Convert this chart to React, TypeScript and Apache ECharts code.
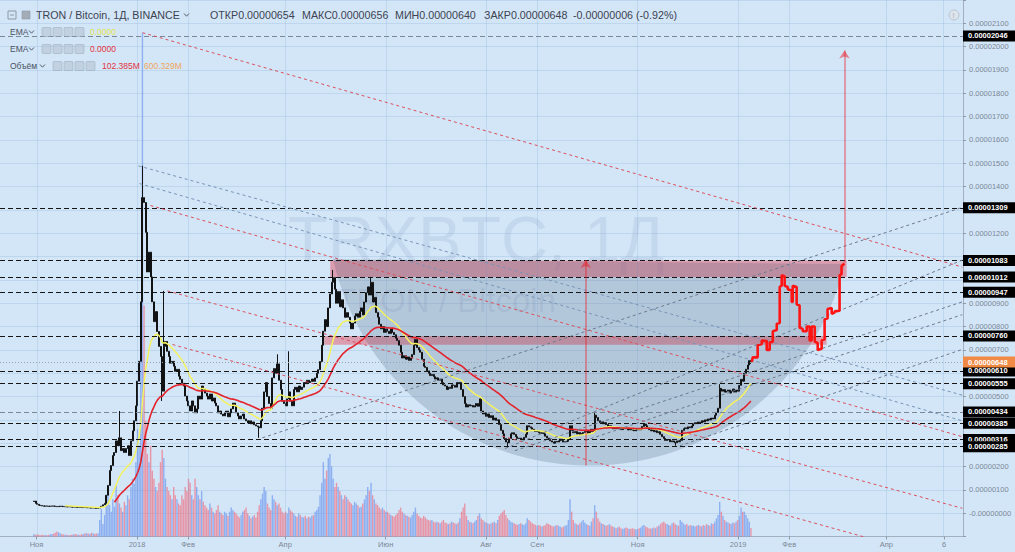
import React, { useEffect, useRef } from "react";
import * as echarts from "echarts";

const DAY = 86400000;
const T2018 = Date.UTC(2018, 0, 1);
const T2019 = Date.UTC(2019, 0, 1);
const SERIES_START = Date.UTC(2017, 9, 30);

// ---- daily closes (satoshi, 1e-8 BTC) ----
const closes2017 = [52, 42,
  38, 34, 33, 31, 30, 31, 30, 29, 30, 31, 30, 29, 28, 29, 30, 29, 28, 28, 27, 28, 27, 26, 27, 26, 25, 26, 25, 24, 25, 24,
  24, 23, 23, 22, 23, 22, 21, 22, 24, 30, 36, 42, 77, 119, 183, 204, 247, 260, 310, 289, 323, 268, 277, 260, 277, 289, 247, 310, 353, 396, 460];
const closes2018a = [
  566, 651, 906, 1353, 1332, 1204, 1034, 1119, 1013, 906, 821, 864, 779, 715, 672, 523, 715, 736, 694, 672, 643, 651, 630, 608, 617, 587, 574, 557, 545, 502, 481,
  460, 438, 481, 460, 430, 447, 502, 489, 545, 532, 515, 502, 489, 511, 481, 494, 472, 460, 430, 438, 425, 417, 430, 438, 413, 430, 447, 472,
  460, 430, 417, 404, 417, 425, 404, 396, 387, 396, 383, 391, 379, 374, 370, 366, 396, 450, 520, 560, 500, 470, 450, 580, 620, 600, 640, 570, 530, 480, 470,
  460, 490, 520, 480, 460, 530, 540, 520, 545, 530, 540, 560, 555, 570, 560, 565, 575, 565, 580, 600, 615, 650, 720, 780, 830, 800, 880, 940, 990, 1010, 960,
  900, 950, 885, 915, 880, 840, 860, 840, 815, 790, 815, 845, 855, 840, 865, 880, 850, 905, 945, 970, 935, 990, 905, 925, 860, 840, 810, 790, 800, 775, 790,
  780, 770, 790, 775, 765, 750, 740, 720, 690, 665, 675, 660, 670, 655, 665, 680, 720, 745, 710, 700, 690, 660, 630, 625, 610, 600, 590, 595, 585, 575];
const closes2018b = [
  580, 570, 575, 560, 550, 545, 530, 540, 535, 550, 548, 540, 560, 555, 560, 530, 500, 470, 455, 465, 460, 462, 455, 460, 470, 458, 490, 438, 425, 430, 415, 425,
  410, 418, 400, 408, 398, 400, 380, 355, 340, 320, 305, 302, 320, 340, 345, 338, 328, 320, 322, 315, 318, 325, 338, 375, 370, 366, 360, 355, 350, 352, 345,
  342, 345, 340, 330, 322, 318, 310, 305, 300, 308, 305, 310, 318, 312, 305, 306, 308, 318, 375, 355, 345, 350, 340, 346, 338, 342, 346, 350, 355, 342, 350,
  360, 350, 420, 410, 396, 388, 392, 383, 388, 380, 372, 375, 366, 362, 366, 362, 366, 362, 358, 362, 366, 362, 357, 360, 357, 356, 353, 357, 362, 357, 362,
  372, 382, 375, 366, 358, 353, 357, 349, 353, 345, 349, 338, 328, 320, 312, 314, 316, 306, 310, 305, 302, 310, 306, 312, 355, 362, 366, 362, 370, 366, 374,
  383, 388, 384, 391, 387, 396, 391, 400, 396, 404, 400, 408, 404, 420, 432, 450, 535, 523, 530, 519, 523, 528, 515, 523, 532, 519, 528, 523, 548, 574, 566];
const closes2019 = [600, 617, 635, 654, 648];

// ---- daily volume (millions) ----
const volumes2017 = [30, 20,
  25, 20, 15, 20, 15, 18, 15, 20, 25, 30, 35, 45, 60, 50, 40, 30, 25, 20, 20, 15, 18, 20, 25, 30, 25, 20, 22, 25, 30, 35,
  40, 35, 30, 45, 40, 30, 35, 40, 200, 330, 150, 260, 420, 560, 380, 300, 450, 360, 620, 500, 400, 350, 300, 420, 380, 500, 450, 600, 700, 640, 900];
const volumes2018a = [
  1300, 1100, 2500, 6100, 2800, 1400, 1000, 900, 1100, 800, 700, 600, 550, 650, 900, 1050, 950, 700, 600, 550, 500, 450, 600, 500, 450, 400, 380, 500, 450, 600, 550,
  700, 650, 500, 450, 700, 600, 500, 450, 550, 420, 380, 350, 320, 400, 350, 300, 280, 320, 380, 300, 280, 260, 300, 280, 250, 300, 350, 320,
  300, 280, 250, 230, 260, 300, 320, 350, 280, 250, 220, 240, 260, 230, 300, 380, 450, 520, 600, 550, 400, 350, 320, 500, 450, 420, 380, 400, 350, 300, 280,
  300, 280, 350, 320, 300, 280, 250, 240, 280, 260, 240, 230, 250, 220, 240, 230, 250, 260, 300, 320, 360, 500, 650, 900, 700, 800, 950, 1000, 850, 700, 600,
  650, 600, 550, 500, 450, 500, 480, 450, 420, 400, 380, 420, 400, 380, 350, 360, 400, 450, 500, 600, 550, 650, 500, 450, 400, 380, 350, 330, 350, 320, 300,
  300, 280, 260, 250, 240, 260, 280, 320, 350, 300, 280, 260, 250, 240, 230, 260, 300, 350, 280, 250, 230, 220, 250, 230, 210, 200, 190, 200, 180, 170];
const volumes2018b = [
  180, 170, 160, 180, 200, 170, 160, 150, 160, 180, 170, 160, 150, 170, 220, 300, 350, 400, 250, 200, 180, 170, 160, 180, 200, 250, 280, 220, 200, 180, 170, 160,
  150, 160, 170, 180, 160, 200, 250, 280, 300, 320, 260, 220, 200, 180, 170, 160, 150, 140, 150, 160, 150, 140, 160, 220, 200, 180, 160, 150, 140, 130, 140,
  130, 120, 130, 140, 160, 150, 140, 130, 120, 130, 140, 130, 120, 110, 120, 130, 140, 200, 450, 300, 200, 160, 150, 140, 160, 180, 200, 170, 150, 140, 130,
  180, 220, 380, 300, 220, 180, 160, 150, 140, 130, 140, 150, 130, 120, 110, 100, 110, 120, 100, 90, 100, 110, 100, 90, 95, 100, 90, 85, 90, 100, 110,
  130, 140, 120, 110, 100, 95, 100, 110, 100, 120, 130, 150, 170, 180, 160, 150, 140, 130, 160, 170, 150, 140, 130, 200, 180, 160, 140, 150, 130, 140, 130,
  130, 120, 130, 140, 130, 120, 140, 130, 150, 140, 130, 160, 150, 180, 220, 260, 420, 300, 250, 200, 180, 170, 160, 150, 170, 160, 180, 200, 250, 350, 300];
const volumes2019 = [300, 260, 220, 180, 102.385];

const firstOpen = 50;
const wickHighs: Record<string, number> = {
  "2017-12-21": 438, "2018-01-04": 1489, "2018-01-17": 953, "2018-03-27": 681, "2018-04-03": 694,
  "2018-04-30": 1043, "2018-05-23": 1013, "2018-10-06": 430, "2018-12-21": 553, "2019-01-09": 656,
};
const wickLows: Record<string, number> = {
  "2018-01-16": 481, "2018-03-16": 323, "2018-08-14": 281, "2018-11-24": 289, "2019-01-09": 640,
};

// ---- drawings (days since 2018-01-01, price in satoshi) ----
const levels = [2046, 1309, 1083, 1012, 947, 760, 610, 555, 434, 385, 316, 285];
const grayLevels = [2046, 434];
const currentPrice = 648;
const redTrend = [
  [3.0, 2060, 501.5, 1055],
  [7.9, 1319, 501.5, 328],
  [18.2, 953, 501.5, 21],
  [21.3, 723, 442, -102],
];
const blueTrend = [
  [0.6, 1489, 501.5, 506],
  [1.2, 1413, 501.5, 396],
];
const grayTrend = [
  [75.9, 323, 501.5, 1311],
  [223.4, 277, 501.5, 1085],
  [229.5, 268, 501.5, 906],
  [272.0, 311, 501.5, 851],
  [329.7, 289, 501.5, 702],
];
const zones = [
  [117.2, 1083, 431.2, 1012],
  [113.5, 760, 419.0, 722],
];
const arcAnchors = [[119.0, 1089], [273.8, 204], [430.0, 1068]];
const arrows = [
  [272.6, 204, 272.6, 1085],
  [429.9, 1075, 429.9, 1983],
];
// projected path (days since 2019-01-01, price)
const forecast = [
  [8.5, 648], [9.1, 668], [12.1, 668], [12.1, 720], [14.6, 725], [14.6, 740], [17.6, 738], [17.6, 700], [19.4, 700], [19.4, 732],
  [21.3, 735], [21.3, 780], [23.7, 785], [23.7, 812], [25.5, 815], [25.5, 970], [26.7, 975], [26.7, 1020], [28.5, 1015], [28.5, 975],
  [30.4, 970], [30.4, 960], [32.8, 955], [32.8, 905], [33.4, 905], [33.4, 975], [35.8, 970], [35.8, 895], [37.6, 890], [37.6, 795],
  [39.5, 790], [39.5, 780], [41.9, 780], [41.9, 800], [43.7, 800], [43.7, 740], [44.9, 740], [44.9, 800], [46.8, 800], [46.8, 735],
  [48.6, 730], [48.6, 700], [51.0, 705], [51.0, 740], [52.8, 745], [52.8, 830], [54.6, 835], [54.6, 875], [57.1, 880], [57.1, 855],
  [58.9, 860], [58.9, 865], [61.9, 868], [61.9, 1020], [63.1, 1025], [63.1, 1060], [64.9, 1070],
];
const yLabelValues = [0, 100, 200, 500, 700, 800, 900, 1200, 1400, 1500, 1600, 1700, 1800, 1900, 2000, 2100];
const xLabelDates = ["2017-11-01", "2018-01-01", "2018-02-01", "2018-04-01", "2018-06-01", "2018-08-01", "2018-09-01", "2018-11-01", "2019-01-01", "2019-02-01", "2019-04-01", "2019-05-06"];
const MONTHS_RU = ["Янв", "Фев", "Мар", "Апр", "Май", "Июн", "Июл", "Авг", "Сен", "Окт", "Ноя", "Дек"];

const header = {
  symbol: "TRON / Bitcoin, 1Д, BINANCE",
  open: "0.00000654", high: "0.00000656", low: "0.00000640", close: "0.00000648",
  change: "-0.00000006 (-0.92%)",
  ema1: "0.0000", ema2: "0.0000", vol: "102.385M", volMa: "600.329M",
};

// ---------------------------------------------------------------
const BG = "#d3e6f8";
const FONT = '"Liberation Sans", Arial, sans-serif';
const X_MIN = T2018 - 83.18 * DAY;
const X_MAX = T2018 + 501.52 * DAY;
const d18 = (d: number) => T2018 + d * DAY;
const d19 = (d: number) => T2019 + d * DAY;
const fmtPrice = (v: number) => (v === 0 ? "-0.00000000" : (v / 1e8).toFixed(8));

function ema(src: number[], n: number): (number | null)[] {
  const k = 2 / (n + 1);
  let e = 0;
  return src.map((v, i) => {
    if (i < n - 1) return null;
    if (i === n - 1) {
      e = src.slice(0, n).reduce((a, b) => a + b, 0) / n;
    } else {
      e = v * k + e * (1 - k);
    }
    return e;
  });
}

function buildOption() {
  const closes = [...closes2017, ...closes2018a, ...closes2018b, ...closes2019];
  const vols = [...volumes2017, ...volumes2018a, ...volumes2018b, ...volumes2019];
  const times = closes.map((_, i) => SERIES_START + i * DAY);
  const candles = closes.map((c, i) => {
    const o = i === 0 ? firstOpen : closes[i - 1];
    const key = new Date(times[i]).toISOString().slice(0, 10);
    const h = Math.max(o, c, wickHighs[key] ?? 0);
    const l = Math.min(o, c, wickLows[key] ?? 1e9);
    return [times[i], o, c, l, h];
  });
  const volData = vols.map((v, i) => ({
    value: [times[i], v],
    itemStyle: { color: candles[i][2] >= candles[i][1] ? "rgba(98,142,236,0.62)" : "rgba(242,100,118,0.62)" },
  }));
  const e20 = ema(closes, 20);
  const e50 = ema(closes, 50);
  const toLine = (arr: (number | null)[]) =>
    arr.map((v, i) => (v == null ? null : [times[i], v])).filter((x) => x != null);

  const showY = new Set(yLabelValues);
  const xTicks = xLabelDates.map((s) => Date.parse(s + "T00:00:00Z"));

  const levelLabel = (bg: string) => ({
    show: true,
    position: "end",
    distance: 0,
    formatter: (p: any) => fmtPrice(p.value),
    color: "#ffffff",
    backgroundColor: bg,
    padding: [2, 8, 1, 5],
    fontSize: 7.5,
    fontWeight: "bold",
    fontFamily: FONT,
  });

  const markLineData: any[] = levels.map((v) => ({
    yAxis: v,
    lineStyle: {
      color: grayLevels.includes(v) ? "#7b8898" : "#151515",
      type: [5, 3],
      width: 1,
    },
    label: levelLabel("#000000"),
  }));
  markLineData.push({
    yAxis: currentPrice,
    lineStyle: { color: "#9aa4ae", type: [1, 2], width: 1 },
    label: levelLabel("#f08a45"),
  });

  const lineSeries = (data: number[][], color: string, z: number) => ({
    type: "lines",
    coordinateSystem: "cartesian2d",
    silent: true,
    z,
    symbol: "none",
    lineStyle: { color, width: 1, type: [3, 3], opacity: 1 },
    data: data.map(([a, b, c, d]) => ({ coords: [[d18(a), b], [d18(c), d]] })),
  });

  const icon = (x: number, y: number) => [0, 1, 2, 3].map((k) => ({
    type: "rect",
    shape: { x: x + k * 11, y: y - 4.5, width: 9, height: 9, r: 1 },
    style: { fill: "rgba(170,185,200,0.45)", stroke: "rgba(150,165,180,0.6)", lineWidth: 0.8 },
    z: 100,
  }));
  const txt = (x: number, y: number, text: string, size: number, fill: string, extra: any = {}) => ({
    type: "text",
    x, y, z: 100,
    style: { text, fill, font: `${size}px ${FONT}`, textVerticalAlign: "middle", verticalAlign: "middle", ...extra },
  });
  const chevron = (x: number, y: number) => ({
    type: "polyline",
    z: 100,
    shape: { points: [[x, y - 1.5], [x + 2.5, y + 1.2], [x + 5, y - 1.5]] },
    style: { stroke: "#555d68", lineWidth: 1, fill: "none" },
  });

  const HF = 10.7;
  const graphic: any[] = [
    { type: "text", left: 288, top: 207, z: 0, silent: true,
      style: { text: "TRXBTC, 1Д", fill: "rgba(120,145,180,0.16)", font: `65px ${FONT}` } },
    { type: "text", left: 336, top: 284, z: 0, silent: true,
      style: { text: "TRON / Bitcoin", fill: "rgba(120,145,180,0.16)", font: `33px ${FONT}` } },
    { type: "rect", z: 100, shape: { x: 8, y: 11, width: 8, height: 8 }, style: { fill: "none", stroke: "#8d97a3", lineWidth: 1 } },
    { type: "line", z: 100, shape: { x1: 10, y1: 15, x2: 14, y2: 15 }, style: { stroke: "#8d97a3", lineWidth: 1 } },
    { type: "rect", z: 100, shape: { x: 22, y: 11, width: 8, height: 8 }, style: { fill: "#a3adb8", stroke: "#8d97a3", lineWidth: 0.6 } },
    txt(36, 15, header.symbol, HF, "#3d4350"),
    chevron(184, 15),
    txt(210, 15, "ОТКР" + header.open, HF, "#3d4350"),
    txt(302, 15, "МАКС" + header.high, HF, "#3d4350"),
    txt(395, 15, "МИН" + header.low, HF, "#3d4350"),
    txt(484, 15, "ЗАКР" + header.close, HF, "#3d4350"),
    txt(573, 15, header.change, HF, "#3d4350"),
    txt(10, 32, "EMA", 8.5, "#4a525e"), chevron(29, 32), ...icon(42, 32), txt(90, 32, header.ema1, 8.5, "#e4e24e"),
    txt(10, 49, "EMA", 8.5, "#4a525e"), chevron(29, 49), ...icon(42, 49), txt(90, 49, header.ema2, 8.5, "#e2323c"),
    txt(10, 66, "Объём", 8.5, "#4a525e"), chevron(40, 66), ...icon(53, 66),
    txt(102, 66, header.vol, 8.5, "#e2323c"), txt(144, 66, header.volMa, 8.5, "#f0a55a"),
    { type: "circle", z: 100, shape: { cx: 954, cy: 15, r: 5 }, style: { fill: "#dde4ec", stroke: "#b9c2cc", lineWidth: 1 } },
    txt(952.5, 15.5, "!", 7, "#a2abb5"),
  ];

  const gridLine = { color: "rgba(110,150,200,0.2)", width: 1 };

  return {
    animation: false,
    backgroundColor: BG,
    grid: { left: 0, right: 52, top: -4, bottom: 15.5, containLabel: false },
    xAxis: [
      {
        type: "time",
        min: X_MIN,
        max: X_MAX,
        axisLine: { show: true, onZero: false, lineStyle: { color: "#a2b1c1", width: 1 } },
        axisTick: { show: false },
        axisLabel: { show: false },
        splitLine: { show: false },
      },
      {
        type: "value",
        position: "bottom",
        min: X_MIN,
        max: X_MAX,
        axisLine: { show: false, onZero: false },
        axisTick: { show: true, length: 3, customValues: xTicks, lineStyle: { color: "#8e9aa8" } },
        axisLabel: {
          customValues: xTicks,
          color: "#7c8795",
          fontSize: 7.5,
          fontFamily: FONT,
          margin: 4,
          hideOverlap: false,
          formatter: (v: number) => {
            const d = new Date(v);
            if (d.getUTCDate() !== 1) return String(d.getUTCDate());
            if (d.getUTCMonth() === 0) return String(d.getUTCFullYear());
            return MONTHS_RU[d.getUTCMonth()];
          },
        },
        splitLine: { show: false },
      },
    ],
    yAxis: [
      {
        type: "value",
        position: "right",
        min: -100,
        max: 2200,
        interval: 100,
        axisLine: { show: true, onZero: false, lineStyle: { color: "#a2b1c1", width: 1 } },
        axisTick: { show: true, inside: false, length: 3, lineStyle: { color: "#8e9aa8" } },
        axisLabel: {
          color: "#7c8795",
          fontSize: 7.5,
          fontFamily: FONT,
          margin: 6,
          formatter: (v: number) => (showY.has(v) ? fmtPrice(v) : ""),
        },
        splitLine: { show: true, lineStyle: gridLine },
      },
      { type: "value", min: 0, max: 6500, show: false, splitLine: { show: false } },
    ],
    series: [
      {
        type: "bar",
        name: "vol",
        yAxisIndex: 1,
        barWidth: 1.4,
        silent: true,
        z: 1,
        data: volData,
        markLine: {
          silent: true,
          symbol: ["none", "none"],
          label: { show: false },
          lineStyle: { ...gridLine, type: "solid" },
          data: xTicks.map((t) => ({ xAxis: t })),
        },
      },
      {
        type: "custom",
        coordinateSystem: "cartesian2d",
        silent: true,
        z: 2,
        data: [[d18(arcAnchors[0][0]), arcAnchors[0][1]]],
        renderItem: (_p: any, api: any) => {
          const pts = arcAnchors.map(([d, v]) => api.coord([d18(d), v]));
          const [a, b, c] = pts;
          const D = 2 * (a[0] * (b[1] - c[1]) + b[0] * (c[1] - a[1]) + c[0] * (a[1] - b[1]));
          const sa = a[0] * a[0] + a[1] * a[1], sb = b[0] * b[0] + b[1] * b[1], sc = c[0] * c[0] + c[1] * c[1];
          const cx = (sa * (b[1] - c[1]) + sb * (c[1] - a[1]) + sc * (a[1] - b[1])) / D;
          const cy = (sa * (c[0] - b[0]) + sb * (a[0] - c[0]) + sc * (b[0] - a[0])) / D;
          const r = Math.hypot(a[0] - cx, a[1] - cy);
          const a1 = Math.atan2(a[1] - cy, a[0] - cx);
          const a2 = Math.atan2(c[1] - cy, c[0] - cx);
          const poly: number[][] = [];
          for (let i = 0; i <= 80; i++) {
            const t = a1 + ((a2 - a1) * i) / 80;
            poly.push([cx + r * Math.cos(t), cy + r * Math.sin(t)]);
          }
          return { type: "polygon", shape: { points: poly }, style: { fill: "rgba(55,75,105,0.2)" } };
        },
      },
      {
        type: "candlestick",
        name: "price",
        z: 3,
        silent: true,
        barWidth: 1.5,
        encode: { x: 0, y: [1, 2, 3, 4] },
        itemStyle: {
          color: "#2d6f8e",
          color0: "#9a5a2c",
          borderColor: "#101214",
          borderColor0: "#101214",
          borderWidth: 1,
        },
        data: candles,
        markLine: { silent: true, symbol: ["none", "none"], animation: false, data: markLineData },
      },
      {
        type: "line", name: "ema20", z: 4, silent: true, showSymbol: false,
        lineStyle: { color: "#f4f25e", width: 1.5 }, data: toLine(e20),
      },
      {
        type: "line", name: "ema50", z: 4, silent: true, showSymbol: false,
        lineStyle: { color: "#e4222a", width: 1.6 }, data: toLine(e50),
      },
      {
        type: "line", name: "forecast", z: 7, silent: true, showSymbol: false,
        lineStyle: { color: "#ff1414", width: 2.6 },
        data: forecast.map(([d, v]) => [d19(d), v]),
        markArea: {
          silent: true,
          itemStyle: { color: "rgba(228,70,88,0.45)" },
          data: zones.map(([x1, v1, x2, v2]) => [{ coord: [d18(x1), v1] }, { coord: [d18(x2), v2] }]),
        },
      },
      lineSeries(redTrend, "#dc4f5c", 6),
      lineSeries(blueTrend, "#7894b6", 6),
      lineSeries(grayTrend, "#6b7a8c", 6),
      {
        type: "lines",
        coordinateSystem: "cartesian2d",
        silent: true,
        z: 8,
        symbol: ["none", "arrow"],
        symbolSize: 8,
        lineStyle: { color: "#ee1c25", width: 1.5, type: "solid" },
        data: arrows.map(([a, b, c, d]) => ({ coords: [[d18(a), b], [d18(c), d]] })),
      },
    ],
    graphic,
  };
}

export default function App() {
  const ref = useRef<HTMLDivElement>(null);
  useEffect(() => {
    if (!ref.current) return;
    const chart = echarts.init(ref.current, null, { renderer: "svg" });
    chart.setOption(buildOption() as any);
    return () => chart.dispose();
  }, []);
  return (
    <div
      ref={ref}
      style={{ position: "absolute", left: 0, top: 0, width: 1015, height: 552, background: BG }}
    />
  );
}
